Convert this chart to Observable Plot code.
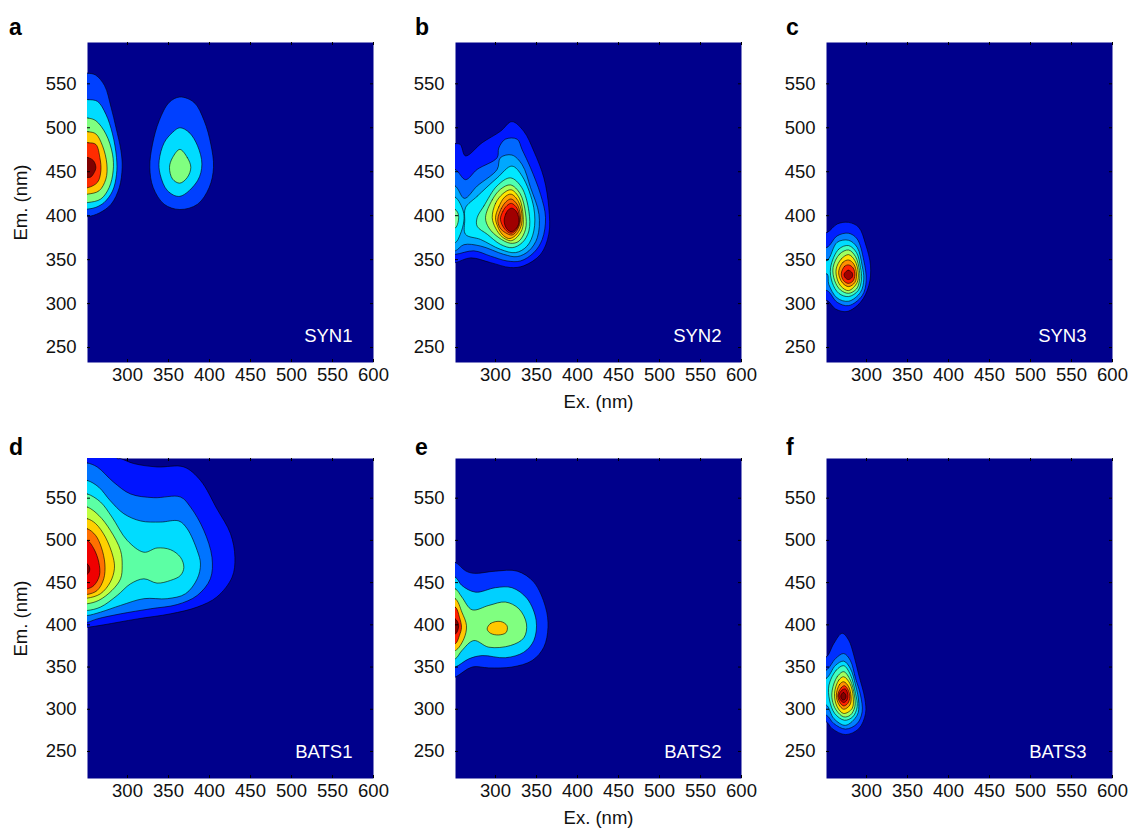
<!DOCTYPE html>
<html><head><meta charset="utf-8">
<script src="https://cdn.jsdelivr.net/npm/d3@7"></script>
<script src="https://cdn.jsdelivr.net/npm/@observablehq/plot@0.6"></script>
<style>
html,body{margin:0;background:#fff}
#wrap{position:relative;width:1129px;height:830px;overflow:hidden;font-family:"Liberation Sans",Arial,sans-serif}
#wrap svg{position:absolute;overflow:visible}
.tag{position:absolute;font-weight:bold;font-size:23px;line-height:23px;color:#000}
</style></head><body><div id="wrap"></div>
<script>
const xTicks = [300,350,400,450,500,550,600];
const yTicks = [250,300,350,400,450,500,550];
const names = ["SYN1","SYN2","SYN3","BATS1","BATS2","BATS3"];
const tags = ["a","b","c","d","e","f"];

// Contour outlines [Ex, Em] in nm, outermost level first
const syn1 = [
 [[240,562],[252,562],[261,560],[272,548],[280,523],[286,500],[292,474],[293.5,455],[290,432],[280,413],[265.5,403],[252,399],[240,399]],
 [[240,532],[252,532],[263.4,530],[273.6,515.5],[281.7,493],[286.6,466],[286.6,447],[281.7,428],[271.5,415],[261.4,409.5],[252,407.6],[240,407.6]],
 [[240,511],[252,511],[261.4,508],[273.6,493],[281.7,470],[282.5,451],[277.6,432],[267.5,419],[252,415],[240,415]],
 [[240,495.5],[252,495.5],[261.4,493],[269.5,479.5],[274.8,458.7],[273.6,441.7],[265.4,428.4],[252,424.6],[240,424.6]],
 [[240,483],[252,483],[261.4,481],[266.3,466],[267.5,451],[263.4,438],[252,432],[240,432]],
 [[240,466],[252,466],[258.5,462.5],[261.4,455],[259.3,449],[255.3,444],[252,443.5],[240,443.5]],
 [[363.8,535],[381.3,528.8],[393.5,508],[401.6,481.4],[404.9,455],[399.6,432],[385.4,413],[363.8,407],[344.7,413],[331.3,432],[327.2,455],[330.5,481.4],[338.6,508],[350.8,528.8]],
 [[363.8,500],[375.2,494.7],[385.4,479.5],[390.7,458.7],[385.4,439.8],[363.8,422],[348.8,428.4],[339.8,447],[338.6,462.5],[344.7,483],[354.9,494.7]],
 [[363.8,475.4],[373,466],[377.2,455],[373,443.6],[363.8,437],[354.9,441.7],[351.2,455],[354.9,466]]
];
const syn2 = [
 [[240,482],[251,482],[257,481],[263.4,468],[283.7,483],[306,496],[320,507],[334.5,496],[346.7,473.5],[359,443],[365,409],[365,379],[355,356],[334.5,343],[318,341],[294,346.6],[269.5,352],[251,346.6],[240,346]],
 [[240,452.6],[251,452.6],[263.4,441],[277.6,452.6],[302,466],[304,477],[312,487],[326.4,487],[332.5,475],[342.7,454.5],[355,424],[361,398],[357,373],[346.7,358],[330.5,348.5],[314,348.5],[294,354],[273.6,360],[251,356],[240,356]],
 [[240,433.7],[251,433.7],[262,419.7],[277.6,433.7],[302,452.6],[306,466],[320,469],[332.5,458],[342.7,432],[353,401.5],[351,375],[340.7,360],[326.4,353.4],[310,356],[281.7,365.5],[261.4,367],[251,360],[240,360]],
 [[240,421],[251,421],[260.6,405.3],[261.4,394],[257,378.8],[251,369.3],[240,369]],
 [[263.4,409],[277.6,422],[302,443],[320,456.4],[332.5,445],[346.7,409],[346.7,382.6],[338.6,365.5],[324.4,358],[306,361.7],[281.7,373],[263.4,378.8],[262.5,395]],
 [[240,407],[251,407],[255,399.6],[251,386],[240,386]],
 [[277.6,397.7],[285.8,411],[302,434],[318.3,443],[332,432],[340.7,405],[340.7,382.6],[332.5,369.3],[320.3,363.6],[306,367.4],[290,378.8],[277.6,388]],
 [[287.8,397.7],[296,418],[306,430],[318.3,435],[330,425],[336.6,403],[336.6,384.5],[328.5,371],[318.3,368.6],[304,375],[292,386]],
 [[296,397.7],[300,414],[309,425],[319,429.5],[329,420],[333.7,399.6],[332.5,384.5],[324.4,374],[318,371.5],[308,376],[300,386]],
 [[300,397.7],[304,410],[311,421],[319,424.5],[328,416],[332.5,397.7],[329.7,384.5],[322.4,376],[316,374],[308,379],[302.5,388]],
 [[302.8,395.8],[307,408],[313,416],[319,419],[327,412],[330.5,395.8],[327,384.5],[320.3,378],[312,380.7],[305.3,386.4]],
 [[306,395.8],[309,405],[314,411.5],[319.5,414],[326.5,408],[329.3,394],[325.6,384.5],[319,380],[311.5,384.5]],
 [[310.5,394],[312.5,402],[316,407],[320.3,408.5],[326,404],[328.5,392],[324.4,384.5],[319,381.8],[313.4,385.5]]
];
const syn3 = [
 [[240,381],[252,381],[264.2,390.5],[278.2,392.4],[290.6,386.7],[298.8,367.8],[304.9,343],[302.8,320.5],[292.7,301.5],[276.2,291],[262.2,293.9],[252,303.4],[240,303.4]],
 [[240,364],[252,364],[264.2,377],[278.2,380],[288.6,373.5],[296.7,349],[299.6,326],[294.7,309],[278.2,297.7],[264.2,301.5],[252,314.8],[240,314.8]],
 [[240,349],[252,349],[264.2,369.7],[278.2,372],[288.6,364],[294.7,343],[296.7,328],[292.7,313],[278.2,302.7],[264.2,306.4],[254,322],[252,333.7],[240,333.7]],
 [[256.2,341],[266.2,362],[278.2,366],[287.8,358],[292.7,341],[293.9,328],[289.8,314.8],[278.2,308],[266.2,311.7],[258.2,324]],
 [[259.2,341],[267.2,356.4],[278.2,361],[286.6,353.4],[291.4,337.5],[291.4,326],[287.8,316.7],[278.2,311.7],[268.2,315.5],[261.2,326]],
 [[263,339.4],[269.2,350.8],[278.2,355.7],[285.8,348.9],[289.8,335.6],[288.6,324],[278.2,314.8],[269.2,319.3],[264.2,328]],
 [[266.2,337.5],[271.2,347],[278.2,349.6],[284.5,345],[287.8,333.7],[285.8,324],[278.2,319.3],[271.2,323],[267,330]],
 [[269.2,333.7],[273.2,342.4],[278.2,344],[283.7,340.5],[285.8,332.6],[283.2,325.4],[277.6,323],[272.2,326]],
 [[272.7,333.7],[277.6,338],[282.5,335],[282.5,330],[277.6,327.3],[273.6,330]]
];
const bats1 = [
 [[240,610],[285,610],[287.4,597],[291.5,596.8],[307.7,591],[336,587],[368.7,587],[389,571],[409,537.5],[425.6,508],[431,480],[427.6,456.5],[409,433],[385,421],[352.4,413],[312,407],[271,400],[251,397],[240,396]],
 [[240,592],[251,591.7],[263,587],[283,569],[303.7,555],[332,550.6],[364.6,551.4],[376.8,539.5],[393,512],[403,480],[401,454.5],[385,434.8],[360.6,424],[328,419],[291.5,413],[263,407],[251,403],[240,402]],
 [[240,571],[251,571],[265,563],[279,547],[295.5,531.6],[316,523],[340,521.7],[362.6,523],[372.8,513.8],[385,488],[389,472],[385,454.5],[370.7,436.8],[348.4,431],[320,431],[291.5,423],[267,415],[251,411],[240,411]],
 [[240,555],[251,555],[267,545.5],[281,527.7],[299.6,500],[320,486],[336,491],[352.4,489],[364.6,480],[368.7,468],[364.6,458.5],[352.4,452.6],[336,449.4],[320,454.5],[303.7,448.6],[287.4,434.8],[267,421],[251,417],[240,417]],
 [[240,539.5],[251,539.5],[265,529.6],[279,512],[291.5,488],[293.5,470],[291.5,454.5],[281,440.7],[265,429],[251,425],[240,425]],
 [[240,525.7],[251,525.7],[261,520],[273,504],[282.5,480],[284,466.4],[279,450.6],[267,436.8],[251,431.6],[240,431.6]],
 [[240,513.8],[251,513.8],[261,506],[268,492],[272.4,472],[271,454.5],[263,440.7],[251,436],[240,436]],
 [[240,500],[251,500],[259,490],[265,474],[265.8,458.5],[259,446.6],[251,442.7],[240,442.7]],
 [[240,472],[251,472],[254,466],[251,460],[240,460]]
];
const bats2 = [
 [[240,475],[251,474],[263.4,464],[273.6,461],[300,463.6],[326.4,463.6],[346.7,450.6],[361,421],[364,397],[358.9,373.5],[344.7,357.7],[320,350],[291.9,349],[271.5,350],[251,338],[240,334]],
 [[240,457],[251,456.5],[259,446.6],[275.6,438.7],[300,444],[320,444],[338.6,431],[349.6,405],[346.7,381.4],[334.5,367.6],[312,361],[283.7,363.6],[267.5,359.7],[251,350],[240,348]],
 [[240,443],[251,442.7],[259,432.8],[271.5,417.8],[291.9,423],[312,427],[328.5,419],[337.8,401],[334.5,384.6],[318.3,375.5],[291.9,373.5],[273.6,381.4],[259,369.5],[251,359.7],[240,358]],
 [[240,431],[251,431],[259,415],[264.6,399],[261.4,383.4],[251,369.5],[240,369.5]],
 [[240,421],[251,421],[256,409],[258.5,397],[256,387.4],[251,377.6],[240,377.6]],
 [[240,407],[251,407],[255,399],[251,389],[240,389]],
 [[289.8,395],[293.9,401.6],[306,404],[314,399],[313,391],[304,388],[293.9,390]]
];
const bats3 = [
 [[240,362],[251,362],[260.2,378],[270.2,390],[278.2,382],[284.5,364],[290.6,340.5],[297.9,312.8],[298.8,295],[290.6,277],[274.4,270],[258.2,277],[251,285],[240,285]],
 [[240,346.4],[251,346.4],[262.2,360],[272.2,366],[280.2,358],[286.6,336.6],[292.7,316.8],[294.7,297],[288.6,283],[274.4,276.5],[260.2,283],[251,293],[240,293]],
 [[240,336.6],[251,336.6],[262.2,352],[272.2,357],[280.2,348.4],[286.6,328.7],[290.6,307],[288.6,293],[274.4,281],[260.2,289],[251,305],[240,305]],
 [[254.2,328.7],[263.2,346.4],[272.2,351.6],[280.2,341.3],[286.6,318.8],[288.6,303],[283.2,291],[273.2,287],[261.2,295],[254.9,311]],
 [[258.2,322.7],[264.2,338.5],[272.2,344.5],[280.2,334.6],[285.2,316.8],[285.8,303],[280.2,293],[272.2,291],[263,299],[258.2,311]],
 [[261,318.8],[266.2,334.6],[272.2,338.5],[279.7,330.6],[283.7,314.8],[282.5,301],[272.2,295],[264.2,303]],
 [[263.2,316.8],[267.1,329.4],[272.2,332.6],[278.2,326.7],[281.2,314.8],[279.7,305],[272.2,300],[266.2,305.7]],
 [[265,316.8],[269.1,325.5],[273.2,327.9],[277.6,322.7],[279.7,314.8],[277.2,307],[272.2,304],[267.5,308]],
 [[266.2,316.8],[270.2,322.7],[274.2,324],[277.2,317.6],[276.2,311],[272.2,308],[268.2,311]],
 [[268.7,316],[271.7,320],[274.7,317],[274.2,312.5],[271.2,311],[269.2,313]]
];
const contours = [syn1,syn2,syn3,bats1,bats2,bats3];

// Fill colours, one list per panel, matching the outline order above
const palettes = [
 ["#0040ff","#00dcff","#80ff80","#ffc800","#ff2c00","#800000","#0040ff","#00dcff","#80ff80"],
 ["#0018ff","#0068ff","#00a8ff","#00e8ff","#00e8ff","#80ffa0","#50ffb0","#a8ff58","#ffe400","#ffa400","#ff6400","#ff1800","#a00000"],
 ["#0020ff","#0080ff","#00dcff","#40ffc0","#a0ff60","#ffe000","#ff9000","#ff2400","#a00000"],
 ["#0014ff","#0074ff","#00dcff","#5cffa4","#c0ff40","#ffd000","#ff7000","#f00000","#800000"],
 ["#0030ff","#00d0ff","#80ff80","#ffc800","#ff2000","#800000","#ffc800"],
 ["#0030ff","#0080ff","#00dcff","#40ffc0","#a0ff60","#ffe000","#ff9000","#ff2000","#c80000","#800000"]
];
const background = "#00008c";
const frames = [[87,42,286],[455,42,286],[826,42,286],[87,458,286],[455,458,286],[826,458,286]];
const labelInsets = [-21,-20,-26,-21,-20,-26];
const yDomains = [[233,597],[233,597],[233,597],[218,597],[218,597],[218,597]];
const xDomain = [251.2,600];
const H = 320, ML = 80, MR = 30, MT = 5, MB = 60, FS = 18.5;

const wrap = document.getElementById("wrap");
names.forEach((name,i)=>{
  const [fx,fy,fw] = frames[i];
  const marks = [Plot.frame({fill:background})];
  contours[i].forEach((pts,j)=>{
    marks.push(Plot.line(pts,{x:d=>d[0],y:d=>d[1],fill:palettes[i][j],stroke:"#000",strokeWidth:0.7,strokeOpacity:0.85,curve:"catmull-rom-closed",clip:true}));
  });
  marks.push(
    Plot.tickX(xTicks,{x:d=>d,insetTop:H-3,stroke:"#000",strokeWidth:1}),
    Plot.tickX(xTicks,{x:d=>d,insetBottom:H-3,stroke:"#000",strokeWidth:1}),
    Plot.tickY(yTicks,{y:d=>d,insetLeft:fw-3,stroke:"#000",strokeWidth:1}),
    Plot.tickY(yTicks,{y:d=>d,insetRight:fw-3,stroke:"#000",strokeWidth:1}),
    Plot.axisX(xTicks,{anchor:"bottom",tickSize:0,tickPadding:5.5,label:i===1||i===4?"Ex. (nm)":null,labelAnchor:"center",labelArrow:"none",labelOffset:45.5,fontSize:FS,tickFormat:d=>String(d)}),
    Plot.axisY(yTicks,{anchor:"left",tickSize:0,tickPadding:11,label:i===0||i===3?"Em. (nm)":null,labelAnchor:"center",labelArrow:"none",labelOffset:74,fontSize:FS,tickFormat:d=>String(d)}),
    Plot.text([name],{text:d=>d,frameAnchor:"bottom-right",dx:labelInsets[i],dy:-20.5,fill:"#fff",fontSize:FS})
  );
  const svg = Plot.plot({
    width:fw+ML+MR,height:H+MT+MB,marginLeft:ML,marginRight:MR,marginTop:MT,marginBottom:MB,
    x:{domain:xDomain},y:{domain:yDomains[i]},
    style:{fontFamily:'"Liberation Sans",Arial,sans-serif',fontSize:FS+"px",color:"#111",background:"transparent",overflow:"visible"},
    marks
  });
  svg.style.left=(fx-ML)+"px";
  svg.style.top=(fy-MT)+"px";
  wrap.appendChild(svg);
  const t=document.createElement("div");
  t.className="tag";t.textContent=tags[i];
  t.style.left=[9,415,786][i%3]+"px";
  t.style.top=(i<3?16:436)+"px";
  wrap.appendChild(t);
});
</script></body></html>
